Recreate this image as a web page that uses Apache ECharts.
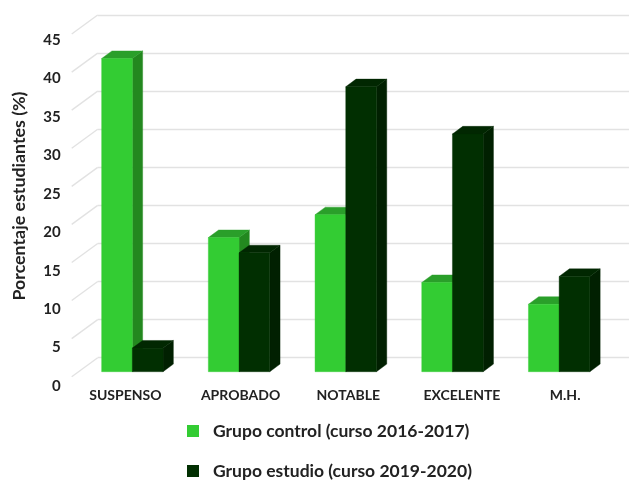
<!DOCTYPE html>
<html>
<head>
<meta charset="utf-8">
<style>html,body{margin:0;padding:0;background:#fff}#c{width:629px;height:480px}</style>
<script src="https://cdn.jsdelivr.net/npm/echarts@6/dist/echarts.min.js"></script>
</head>
<body>
<div id="c"></div>
<script>
const categories = ['SUSPENSO', 'APROBADO', 'NOTABLE', 'EXCELENTE', 'M.H.'];
const controlValues = [41.1, 17.6, 20.6, 11.7, 8.85];
const studyValues = [3.1, 15.6, 37.4, 31.2, 12.5];
const yTicks = [0, 5, 10, 15, 20, 25, 30, 35, 40, 45];
const controlName = 'Grupo control (curso 2016-2017)';
const studyName = 'Grupo estudio (curso 2019-2020)';
const yTitle = 'Porcentaje estudiantes (%)';

const FONT = 'Lato';
const TEXT = '#222222';
const GRID = '#e2e2e2';
const labelPadding = [[0, 14, 0, 0], [0, 0, 0, 3], [0, 0, 0, 5], [0, 0, 0, 19], [0, 0, 0, 12]];
const chart = echarts.init(document.getElementById('c'), null, {renderer: 'canvas'});

function bar3d(shift, front, top, side) {
  return function (params, api) {
    const base = api.coord([api.value(0), 0]);
    const head = api.coord([api.value(0), api.value(1)]);
    const w = api.size([1, 0])[0] * 0.2878;
    const x0 = base[0] + shift * w, x1 = x0 + w;
    const y0 = base[1], y1 = head[1];
    const dx = 10.3, dy = 7.6;
    const poly = (points, fill) => ({type: 'polygon', shape: {points}, style: {fill, stroke: fill, lineWidth: 0.4}});
    return {
      type: 'group',
      children: [
        poly([[x1, y1], [x1 + dx, y1 - dy], [x1 + dx, y0 - dy], [x1, y0]], side),
        poly([[x0, y1], [x0 + dx, y1 - dy], [x1 + dx, y1 - dy], [x1, y1]], top),
        poly([[x0, y1], [x1, y1], [x1, y0], [x0, y0]], front)
      ]
    };
  };
}

function slant(params, api) {
  const p = api.coord([0, api.value(0)]);
  return {
    type: 'line',
    shape: {x1: p[0], y1: p[1], x2: p[0] - 26, y2: p[1] + 19},
    style: {stroke: GRID, lineWidth: 1.4}
  };
}

const legendBase = {
  left: 187, icon: 'rect', padding: 0, itemWidth: 12, itemHeight: 12, itemGap: 0,
  textStyle: {fontFamily: FONT, fontSize: 17.5, fontWeight: 700, color: TEXT, padding: [0, 0, 0, 9]}
};

chart.setOption({
  animation: false,
  backgroundColor: '#fff',
  textStyle: {fontFamily: FONT},
  legend: [
    Object.assign({}, legendBase, {top: 422, data: [controlName]}),
    Object.assign({}, legendBase, {top: 462, data: [studyName]})
  ],
  grid: [
    {left: 97.7, right: 0, top: 15, height: 342.7},
    {left: 79, width: 533.5, top: 28.8, height: 342.9},
    {left: 71.7, width: 10, top: 40, height: 346}
  ],
  xAxis: [
    {type: 'value', gridIndex: 0, min: 0, max: 1, show: false},
    {type: 'category', gridIndex: 1,
      data: categories.map((value, i) => ({value, textStyle: {padding: labelPadding[i]}})),
      axisLine: {show: false}, axisTick: {show: false},
      axisLabel: {margin: 17, fontFamily: FONT, fontSize: 14, fontWeight: 700, color: TEXT, interval: 0}},
    {type: 'value', gridIndex: 2, min: 0, max: 1, show: false}
  ],
  yAxis: [
    {type: 'value', gridIndex: 0, min: 0, max: 45, interval: 5, axisLine: {show: false}, axisTick: {show: false},
      axisLabel: {show: false}, splitLine: {lineStyle: {color: GRID, width: 1.4}}},
    {type: 'value', gridIndex: 1, min: 0, max: 45, interval: 5, show: false, splitLine: {show: false}},
    {type: 'value', gridIndex: 2, min: 0, max: 45, interval: 5, axisLine: {show: false}, axisTick: {show: false},
      splitLine: {show: false},
      axisLabel: {margin: 11, fontFamily: FONT, fontSize: 15, fontWeight: 700, color: TEXT},
      name: yTitle, nameLocation: 'middle', nameRotate: 90, nameGap: 43,
      nameTextStyle: {fontFamily: FONT, fontSize: 17.8, fontWeight: 700, color: TEXT, padding: [0, 0, 0, 34]}}
  ],
  series: [
    {type: 'custom', name: 'muro', xAxisIndex: 0, yAxisIndex: 0, silent: true, z: 1,
      data: yTicks.map(v => [v]), encode: {y: 0}, renderItem: slant, clip: false},
    {type: 'custom', name: controlName, xAxisIndex: 1, yAxisIndex: 1, z: 3,
      itemStyle: {color: '#33CC33'},
      data: controlValues.map((v, i) => [i, v]), encode: {x: 0, y: 1},
      renderItem: bar3d(-1, '#33CC33', '#2A9F2A', '#23881F')},
    {type: 'custom', name: studyName, xAxisIndex: 1, yAxisIndex: 1, z: 4,
      itemStyle: {color: '#012F01'},
      data: studyValues.map((v, i) => [i, v]), encode: {x: 0, y: 1},
      renderItem: bar3d(0, '#012F01', '#012701', '#012001')}
  ]
});
</script>
</body>
</html>
